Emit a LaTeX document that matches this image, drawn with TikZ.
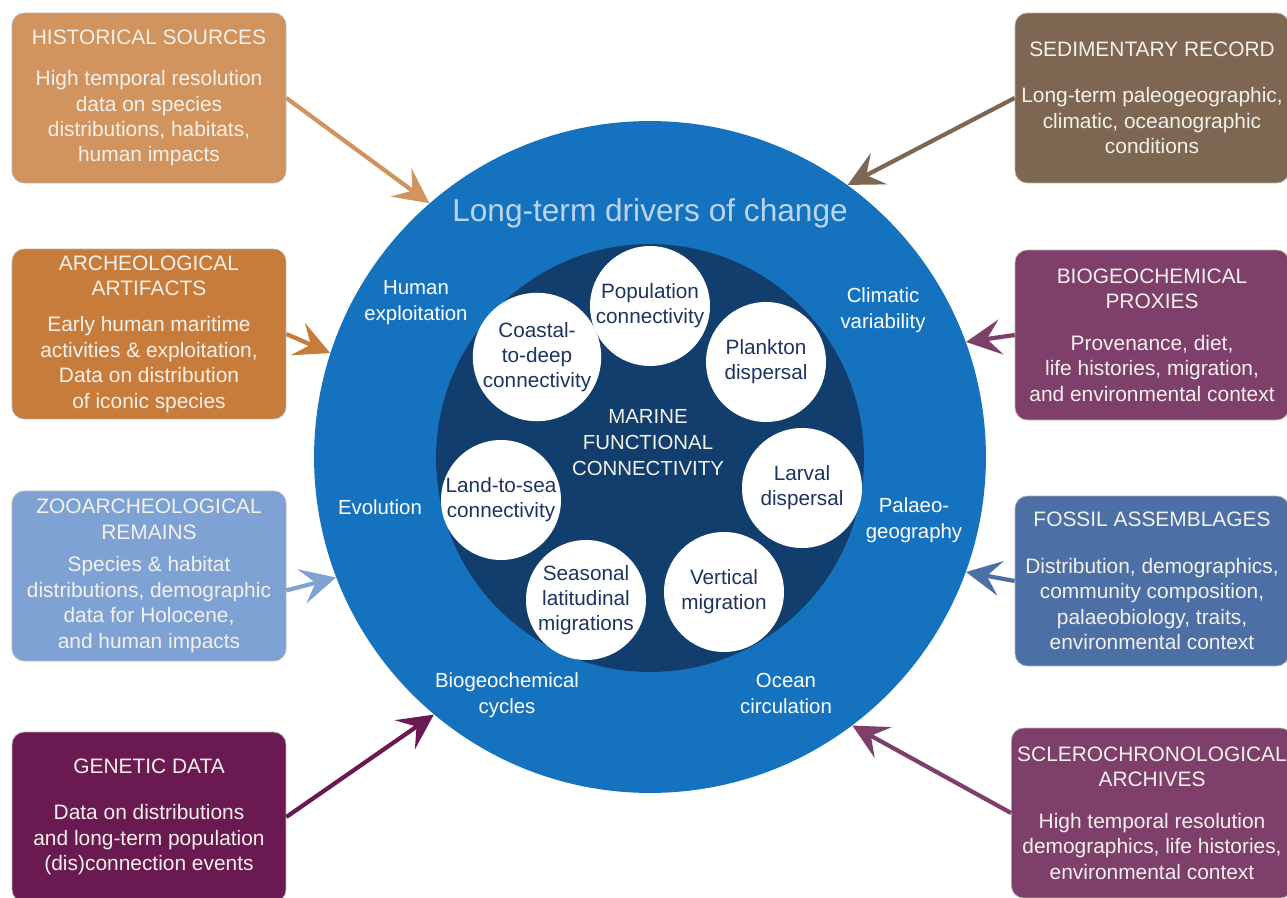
\documentclass[tikz,border=0pt]{standalone}
\usepackage{fontspec}
\setmainfont{Liberation Sans}
\usetikzlibrary{arrows.meta}

\definecolor{driverblue}{HTML}{1572BE}
\definecolor{marinenavy}{HTML}{123E6D}
\definecolor{circletext}{HTML}{1E3360}
\definecolor{titleblue}{HTML}{BCD4EE}
\definecolor{boxtext}{HTML}{F4F0EA}
\definecolor{histtan}{HTML}{D2945E}
\definecolor{sedbrown}{HTML}{7E6752}
\definecolor{archorange}{HTML}{C87C3C}
\definecolor{zooblue}{HTML}{7FA2D4}
\definecolor{genpurple}{HTML}{6A1A50}
\definecolor{proxyplum}{HTML}{7E3F6B}
\definecolor{fossilblue}{HTML}{4C70A6}

\tikzset{
  sourcebox/.style={draw=black!30, line width=0.4pt, rounded corners=7pt,
    minimum width=5.48cm, minimum height=3.4cm, align=center, text=boxtext,
    font=\fontsize{11.9}{14.5}\selectfont},
  mfcircle/.style={circle, fill=white, minimum size=2.4cm, inner sep=0pt,
    align=center, text=circletext, font=\fontsize{11.8}{14.2}\selectfont},
  driverlabel/.style={align=center, text=white, font=\fontsize{11.6}{14.8}\selectfont},
  feed/.style={line width=2.4pt, -{Stealth[length=20pt,width=20pt,inset=8pt]}},
}

\begin{document}
\begin{tikzpicture}[x=0.02cm, y=-0.02cm]
\path[use as bounding box, fill=white] (0,0) rectangle (1287,898);

% long-term drivers
\node[circle, fill=driverblue, minimum size=13.44cm, inner sep=0pt] (drivers) at (650,457) {};
\node[text=titleblue, font=\fontsize{18}{22}\selectfont] (title) at (650,213) {Long-term drivers of change};

\node[driverlabel] (human) at (416,303) {Human\\exploitation};
\node[driverlabel] (climate) at (883,310) {Climatic\\variability};
\node[driverlabel] (evolution) at (380,507) {Evolution};
\node[driverlabel] (palaeo) at (914,520) {Palaeo-\\geography};
\node[driverlabel] (biocycles) at (507,695) {Biogeochemical\\cycles};
\node[driverlabel] (ocean) at (786,693) {Ocean\\circulation};

% marine functional connectivity
\node[circle, fill=marinenavy, minimum size=8.56cm, inner sep=0pt] (marine) at (650,458) {};
\node[text=boxtext, align=center, font=\fontsize{11.6}{14.8}\selectfont] (mfc) at (648,443) {MARINE\\FUNCTIONAL\\CONNECTIVITY};

\node[mfcircle] (population) at (650,306) {Population\\connectivity};
\node[mfcircle] (plankton) at (766,362) {Plankton\\dispersal};
\node[mfcircle] (larval) at (802,488) {Larval\\dispersal};
\node[mfcircle] (vertical) at (724,592) {Vertical\\migration};
\node[mfcircle] (seasonal) at (586,600) {Seasonal\\latitudinal\\migrations};
\node[mfcircle] (landsea) at (501,500) {Land-to-sea\\connectivity};
\node[mfcircle] (coastal) at (537,357) {Coastal-\\to-deep\\connectivity};

% sources on the left
\node[sourcebox, fill=histtan] (hist) at (149,98) {HISTORICAL SOURCES\\[9pt]High temporal resolution\\data on species\\distributions, habitats,\\human impacts};
\node[sourcebox, fill=archorange] (arch) at (149,334) {ARCHEOLOGICAL\\ARTIFACTS\\[6pt]Early human maritime\\activities \& exploitation,\\Data on distribution\\of iconic species};
\node[sourcebox, fill=zooblue] (zoo) at (149,576) {ZOOARCHEOLOGICAL\\REMAINS\\[4pt]Species \& habitat\\distributions, demographic\\data for Holocene,\\and human impacts};
\node[sourcebox, fill=genpurple] (genetic) at (149,817) {GENETIC DATA\\[12pt]Data on distributions\\and long-term population\\(dis)connection events};

% sources on the right
\node[sourcebox, fill=sedbrown] (sed) at (1152,98) {SEDIMENTARY RECORD\\[12pt]Long-term paleogeographic,\\climatic, oceanographic\\conditions};
\node[sourcebox, fill=proxyplum] (proxy) at (1152,335) {BIOGEOCHEMICAL\\PROXIES\\[9pt]Provenance, diet,\\life histories, migration,\\and environmental context};
\node[sourcebox, fill=fossilblue] (fossil) at (1152,581) {FOSSIL ASSEMBLAGES\\[12pt]Distribution, demographics,\\community composition,\\palaeobiology, traits,\\environmental context};
\node[sourcebox, fill=proxyplum] (sclero) at (1152,813) {SCLEROCHRONOLOGICAL\\ARCHIVES\\[9pt]High temporal resolution\\demographics, life histories,\\environmental context};

% arrows into the drivers circle
\draw[feed, color=histtan] (hist.east) -- (drivers.131.5);
\draw[feed, color=archorange] (arch.east) -- (drivers.162);
\draw[feed, color=zooblue] (zoo.-6) -- (drivers.201.8);
\draw[feed, color=genpurple] (genetic.east) -- (drivers.230.4);
\draw[feed, color=sedbrown] (sed.west) -- (drivers.54);
\draw[feed, color=proxyplum] (proxy.west) -- (drivers.20.5);
\draw[feed, color=fossilblue] (fossil.west) -- (drivers.-20.7);
\draw[feed, color=proxyplum] (sclero.west) -- (drivers.-53);
\end{tikzpicture}
\end{document}
